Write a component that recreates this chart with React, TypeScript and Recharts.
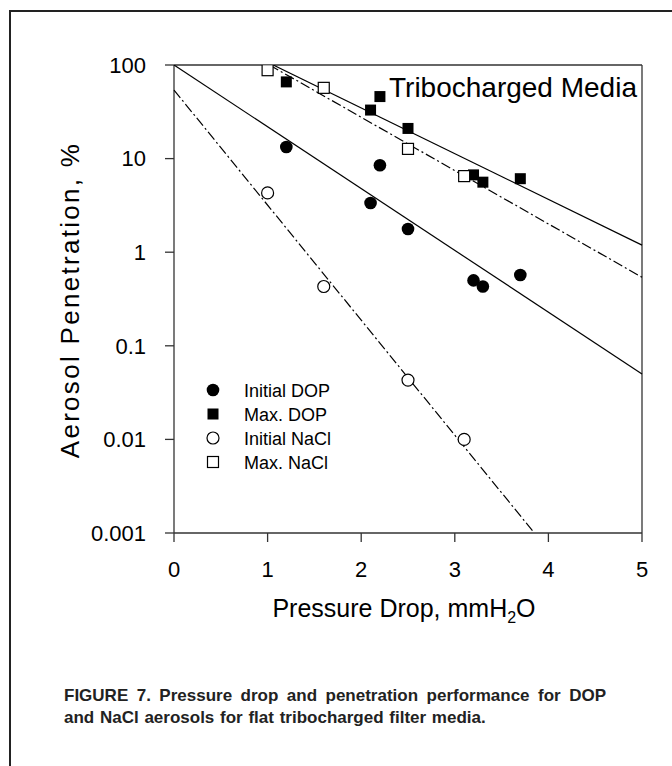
import React from 'react';
import { ScatterChart, Scatter, XAxis, YAxis, ReferenceLine } from 'recharts';

const initialDop = [
  { x: 1.2, y: 13.3 }, { x: 2.1, y: 3.35 }, { x: 2.2, y: 8.5 }, { x: 2.5, y: 1.77 },
  { x: 3.2, y: 0.5 }, { x: 3.3, y: 0.43 }, { x: 3.7, y: 0.57 },
];
const maxDop = [
  { x: 1.2, y: 66 }, { x: 2.1, y: 33 }, { x: 2.2, y: 46 }, { x: 2.5, y: 21 },
  { x: 3.2, y: 6.7 }, { x: 3.3, y: 5.6 }, { x: 3.7, y: 6.1 },
];
const initialNacl = [{ x: 1.0, y: 4.3 }, { x: 1.6, y: 0.43 }, { x: 2.5, y: 0.043 }, { x: 3.1, y: 0.01 }];
const maxNacl = [{ x: 1.0, y: 88 }, { x: 1.6, y: 57 }, { x: 2.5, y: 12.7 }, { x: 3.1, y: 6.5 }];

// fitted lines (end points as drawn)
const initialDopFit = [{ x: 0, y: 100 }, { x: 5, y: 0.05 }];
const maxDopFit = [{ x: 1.06, y: 100 }, { x: 5, y: 1.19 }];
const initialNaclFit = [{ x: 0, y: 54 }, { x: 3.85, y: 0.001 }];
const maxNaclFit = [{ x: 1.02, y: 100 }, { x: 5, y: 0.54 }];

const xTicks = [0, 1, 2, 3, 4, 5];
const yTicks = [0.001, 0.01, 0.1, 1, 10, 100];
const legendNames = ['Initial DOP', 'Max. DOP', 'Initial NaCl', 'Max. NaCl'];

const FONT = '"Liberation Sans", Arial, sans-serif';
const AXIS = '#333';
const DASHDOT = '10 3 2 3';

const FilledCircle = (p: any) => <circle cx={p.cx} cy={p.cy} r={6.3} fill="#000" />;
const FilledSquare = (p: any) => <rect x={p.cx - 5.5} y={p.cy - 5.5} width={11} height={11} fill="#000" />;
const OpenCircle = (p: any) => <circle cx={p.cx} cy={p.cy} r={6} fill="#fff" stroke="#000" strokeWidth={1.2} />;
const OpenSquare = (p: any) => (
  <rect x={p.cx - 5.5} y={p.cy - 5.5} width={11} height={11} fill="#fff" stroke="#000" strokeWidth={1.2} />
);
const NoDot = () => <g />;

const legendShapes = [FilledCircle, FilledSquare, OpenCircle, OpenSquare];

export default function App() {
  return (
    <div style={{ position: 'fixed', left: 0, top: 0, width: 672, height: 766, background: '#fff', overflow: 'hidden', fontFamily: FONT }}>
      <div style={{ position: 'absolute', left: 9, top: 10, width: 720, height: 820, border: '2px solid #222' }} />
      <div style={{ position: 'absolute', left: 0, top: 0 }}>
        <ScatterChart width={672} height={766} margin={{ top: 65, right: 30, bottom: 173, left: 114 }}>
          <XAxis
            type="number"
            dataKey="x"
            domain={[0, 5]}
            ticks={xTicks}
            height={60}
            tickSize={9}
            tickMargin={19}
            axisLine={{ stroke: AXIS, strokeWidth: 1.3 }}
            tickLine={{ stroke: AXIS, strokeWidth: 1.3 }}
            tick={{ fill: '#000', fontSize: 22, fontFamily: FONT }}
          />
          <YAxis
            type="number"
            dataKey="y"
            scale="log"
            domain={[0.001, 100]}
            ticks={yTicks}
            allowDataOverflow
            width={60}
            tickSize={9}
            tickMargin={19}
            tickFormatter={(v: number) => String(v)}
            axisLine={{ stroke: AXIS, strokeWidth: 1.3 }}
            tickLine={{ stroke: AXIS, strokeWidth: 1.3 }}
            tick={{ fill: '#000', fontSize: 22, fontFamily: FONT }}
          />
          <ReferenceLine y={100} stroke={AXIS} strokeWidth={1.3} />
          <ReferenceLine x={5} stroke={AXIS} strokeWidth={1.3} />

          <Scatter data={initialDopFit} line={{ stroke: '#000', strokeWidth: 1.2 }} shape={NoDot} isAnimationActive={false} />
          <Scatter data={maxDopFit} line={{ stroke: '#000', strokeWidth: 1.2 }} shape={NoDot} isAnimationActive={false} />
          <Scatter data={initialNaclFit} line={{ stroke: '#000', strokeWidth: 1.2, strokeDasharray: DASHDOT }} shape={NoDot} isAnimationActive={false} />
          <Scatter data={maxNaclFit} line={{ stroke: '#000', strokeWidth: 1.2, strokeDasharray: DASHDOT }} shape={NoDot} isAnimationActive={false} />

          <Scatter name="Initial DOP" data={initialDop} shape={FilledCircle} isAnimationActive={false} />
          <Scatter name="Max. DOP" data={maxDop} shape={FilledSquare} isAnimationActive={false} />
          <Scatter name="Initial NaCl" data={initialNacl} shape={OpenCircle} isAnimationActive={false} />
          <Scatter name="Max. NaCl" data={maxNacl} shape={OpenSquare} isAnimationActive={false} />
        </ScatterChart>
      </div>

      <svg width={672} height={766} style={{ position: 'absolute', left: 0, top: 0, pointerEvents: 'none' }} fontFamily={FONT}>
        <text x={389} y={97} fontSize={28} fill="#000">Tribocharged Media</text>
        <text transform="translate(79,300) rotate(-90)" textAnchor="middle" fontSize={26} letterSpacing={2.3} fill="#000">
          Aerosol Penetration, %
        </text>
        <text x={404} y={617} textAnchor="middle" fontSize={25} fill="#000">
          Pressure Drop, mmH<tspan fontSize={16} dy={6}>2</tspan><tspan dy={-6}>O</tspan>
        </text>
        {legendNames.map((name, i) => {
          const Shape = legendShapes[i];
          const cy = 390 + i * 24;
          return (
            <g key={name}>
              <Shape cx={213} cy={cy} />
              <text x={244} y={cy + 6.5} fontSize={18} fill="#000">{name}</text>
            </g>
          );
        })}
      </svg>

      <div style={{ position: 'absolute', left: 64, top: 685, width: 542, fontWeight: 'bold', fontSize: 17, lineHeight: '22px', color: '#222' }}>
        <div style={{ textAlign: 'justify', textAlignLast: 'justify', whiteSpace: 'nowrap' }}>
          FIGURE 7. Pressure drop and penetration performance for DOP
        </div>
        <div style={{ wordSpacing: 1 }}>and NaCl aerosols for flat tribocharged filter media.</div>
      </div>
    </div>
  );
}
